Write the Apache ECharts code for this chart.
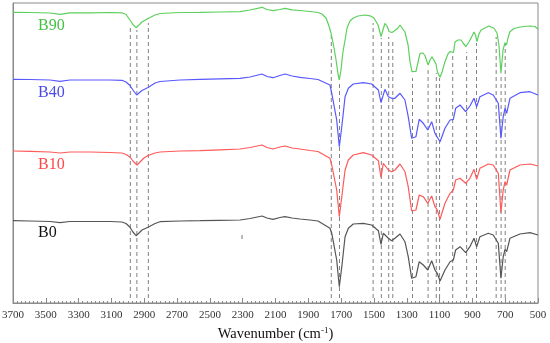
<!DOCTYPE html>
<html>
<head>
<meta charset="utf-8">
<script src="https://cdn.jsdelivr.net/npm/echarts@6/dist/echarts.min.js"></script>
<style>html,body{margin:0;padding:0;background:#fff}#c{width:550px;height:343px}</style>
</head>
<body>
<div id="c"></div>
<script>
// Series names
const seriesNames = ['B90', 'B40', 'B10', 'B0'];
// Spectra: [wavenumber (cm-1), transmittance (a.u., offset)]
const B90 = [[3700,290.7],[3596,290.5],[3474,290],[3414,288.7],[3353,290.2],[3231,290.2],[3109,290.5],[3036,290.2],[3011,288.5],[2987,283],[2969,278.5],[2950,275.3],[2932,278],[2914,281],[2877,284.5],[2834,288],[2804,289.5],[2682,290.5],[2560,290.7],[2438,291],[2316,291.3],[2255,293],[2182,295.7],[2152,293.5],[2115,292.3],[2073,293.5],[2042,294.7],[1999,293.2],[1951,292.5],[1890,291.5],[1841,290.5],[1817,289],[1792,285],[1774,277],[1762,270],[1743,255],[1731,243],[1719,229],[1711,223],[1701,233],[1689,251],[1676,263],[1664,275],[1646,282],[1628,284.7],[1597,287],[1555,288],[1524,287.2],[1500,285],[1475,278],[1457,266.5],[1445,273],[1433,279.7],[1420,277],[1408,271.5],[1390,270.5],[1372,272.5],[1353,275],[1341,278],[1329,276],[1311,271],[1292,258],[1280,241],[1268,231.3],[1244,231.5],[1231,241],[1219,249.7],[1201,250],[1189,247.5],[1170,238],[1158,243],[1146,246.3],[1134,245.5],[1122,239],[1113,231],[1097,225.7],[1085,231],[1067,241.3],[1049,249],[1036,251.3],[1024,251],[1015,250.5],[1006,261],[988,263],[969,263],[957,260],[939,256.5],[921,261],[902,267],[890,271],[881,268],[872,261.3],[860,269],[847,273],[823,275],[799,277],[768,274.7],[750,270],[738,258],[726,229.7],[713,253],[701,260.3],[692,258],[683,265],[671,271.3],[646,274.5],[610,276],[549,277],[518,276.5],[500,273.7]];
const B40 = [[3700,223.7],[3596,223.5],[3474,223],[3414,221.7],[3353,223],[3231,223],[3109,223],[3036,222.7],[3011,221],[2987,217.5],[2969,213],[2946,208],[2932,210],[2914,212.5],[2877,215.5],[2834,220],[2804,221.5],[2682,223],[2560,223.7],[2438,224.2],[2316,224.7],[2255,226],[2182,229],[2152,226.5],[2115,225.3],[2073,227.5],[2042,229],[1999,227],[1951,225.7],[1890,224.5],[1841,223.5],[1829,223],[1768,218],[1757,209.7],[1727,183],[1711,156.3],[1696,176.3],[1676,206.3],[1656,214.7],[1626,219],[1565,220.3],[1514,219],[1473,213],[1457,200.3],[1433,213.7],[1412,206.3],[1392,204.7],[1372,204.7],[1341,209.7],[1311,203],[1291,186.3],[1270,164.7],[1244,166.3],[1224,183.7],[1199,179.7],[1172,173],[1148,181.3],[1128,169.7],[1117,168],[1097,161.3],[1067,174.7],[1036,183],[1016,183.7],[1002,194.7],[975,198],[941,191.3],[915,197],[890,204.7],[874,196.3],[854,206.3],[803,210.3],[773,208],[742,199.7],[726,164.7],[712,186.3],[701,194.7],[691,189.7],[671,204.7],[610,210.3],[549,211.3],[500,208]];
const B10 = [[3700,152],[3596,151.7],[3474,151],[3414,150],[3353,151],[3231,151],[3109,150.5],[3036,150],[3011,148.5],[2987,146],[2969,142],[2944,138],[2926,141],[2902,145],[2877,147.5],[2834,150],[2804,151],[2682,152],[2560,152.3],[2438,153.2],[2316,154],[2255,155.5],[2182,158],[2152,155.5],[2115,154],[2073,156],[2042,157],[1999,155],[1951,154],[1890,152.5],[1841,151.5],[1829,151.3],[1768,144.7],[1757,138],[1727,113],[1711,86.3],[1696,106.3],[1676,133],[1656,143],[1626,148],[1565,150.3],[1514,148],[1473,142.3],[1457,125.7],[1443,139.7],[1433,141.3],[1412,133],[1392,131.3],[1372,133],[1341,139],[1311,131.3],[1291,116.3],[1270,92],[1244,93],[1224,108],[1199,106.3],[1172,99.7],[1148,107],[1128,96.3],[1114,93],[1097,83.7],[1067,99.7],[1036,109.7],[1016,113],[1002,123],[975,124.7],[941,119.7],[915,124.7],[890,133.7],[874,123.7],[854,134.7],[803,139],[773,138],[742,129.7],[726,90.3],[712,113],[701,121.3],[691,118],[671,133],[610,138],[549,139],[500,137]];
const B0 = [[3700,82.3],[3596,82],[3474,81.5],[3414,80.3],[3353,81.5],[3231,81.5],[3109,81.5],[3036,81],[3011,79.5],[2987,75.7],[2969,71],[2950,67.3],[2932,70],[2914,73],[2877,75.7],[2834,79.5],[2804,81.3],[2682,82],[2560,82.3],[2438,82.7],[2316,83],[2255,84.5],[2182,87],[2152,85],[2115,83.7],[2073,85.5],[2042,86.3],[1999,85],[1951,84],[1890,83],[1841,82],[1829,81.3],[1768,74.7],[1757,69.7],[1727,43],[1711,16.3],[1696,36.3],[1676,66.3],[1656,74.7],[1626,79],[1565,79.7],[1514,78],[1473,72.3],[1457,58.7],[1443,69.7],[1433,71.3],[1412,64.7],[1392,62.3],[1372,64.7],[1341,69],[1311,61.3],[1291,46.3],[1270,24.7],[1244,26.3],[1224,41.3],[1199,38],[1172,33],[1148,42.3],[1128,33],[1114,29.7],[1097,22],[1067,33],[1036,41.3],[1016,43],[1002,53],[975,56.3],[941,50.3],[915,56.3],[890,64.7],[874,56.3],[854,66.3],[803,69.7],[773,68],[742,59.7],[726,24.7],[712,46.3],[701,53.7],[691,51.3],[671,64.7],[610,69],[549,70.3],[500,68]];
// Dashed band guide lines: wavenumber and top end (a.u.)
const bandPositions = [2985,2945,2875,1760,1710,1505,1455,1410,1385,1265,1170,1120,1100,1020,935,875,755,725,700];
const bandTops = [278,273,280,270,221,280,265,266,264,225,235,230,225,250,251,260,266,228,260];
const bandBottom = 5;
// small stray mark
const strayMark = [[2304,64],[2304,68]];
// x tick labels
const xTickLabels = ['3700','3500','3300','3100','2900','2700','2500','2300','2100','1900','1700','1500','1300','1100','900','700','500'];

const colors = ['#5cd05c', '#5858ff', '#ff5a5a', '#555555'];
const textColors = ['#45c045', '#4a4ae6', '#ff4848', '#111111'];
const data = [B90, B40, B10, B0];

const chart = echarts.init(document.getElementById('c'), null, {renderer: 'canvas'});
const series = [];
bandPositions.forEach((w, i) => {
  series.push({
    type: 'line', data: [[w, bandBottom], [w, bandTops[i]]], showSymbol: false, silent: true, z: 1,
    lineStyle: {color: '#808080', width: 1, type: [4, 3]}
  });
});
series.push({type: 'line', data: strayMark, showSymbol: false, silent: true, z: 1, lineStyle: {color: '#777', width: 1}});
data.forEach((d, i) => {
  series.push({
    name: seriesNames[i], type: 'line', data: d, showSymbol: false, z: 3,
    lineStyle: {color: colors[i], width: 1.2}
  });
});
const labelYs = [26.5, 94, 165.5, 234];
chart.setOption({
  animation: false,
  grid: {left: 13, right: 12, top: 3, bottom: 40, outerBoundsMode: 'none', containLabel: false, show: true, borderColor: '#8a8a8a', borderWidth: 1, backgroundColor: 'transparent'},
  xAxis: {
    type: 'value', min: 500, max: 3700, interval: 200, inverse: true,
    axisLine: {show: true, lineStyle: {color: '#8a8a8a', width: 1}},
    axisTick: {show: true, inside: true, length: 5, lineStyle: {color: '#8a8a8a'}},
    minorTick: {show: true, splitNumber: 8, length: 2, lineStyle: {color: '#8a8a8a'}},
    splitLine: {show: false},
    axisLabel: {
      margin: 7, fontFamily: 'Liberation Serif', fontSize: 11, color: '#333',
      formatter: v => xTickLabels.includes(String(v)) ? String(v) : ''
    },
    name: 'Wavenumber (cm{sup|-1})', nameLocation: 'middle', nameGap: 20,
    nameTextStyle: {
      fontFamily: 'Liberation Serif', fontSize: 14.5, color: '#111', lineHeight: 16,
      rich: {sup: {fontFamily: 'Liberation Serif', fontSize: 9, color: '#111', verticalAlign: 'top', lineHeight: 16, padding: [0,0,6,0]}}
    }
  },
  yAxis: {
    type: 'value', min: 0, max: 300,
    axisLine: {show: true, lineStyle: {color: '#8a8a8a'}},
    axisTick: {show: false}, axisLabel: {show: false}, splitLine: {show: false}
  },
  graphic: seriesNames.map((n, i) => ({
    type: 'text', left: 38, top: labelYs[i] - 9, z: 10,
    style: {text: n, fill: textColors[i], font: '16px "Liberation Serif"'}
  })),
  series
});
</script>
</body>
</html>
